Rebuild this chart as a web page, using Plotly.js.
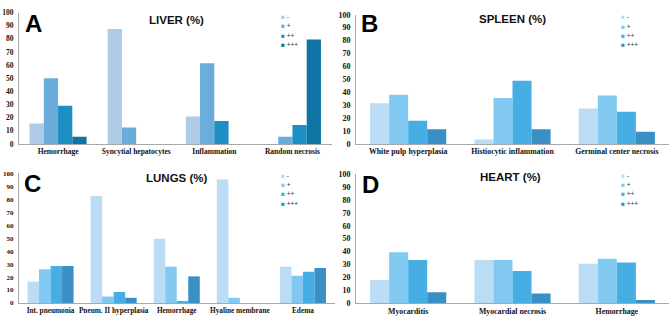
<!DOCTYPE html>
<html>
<head>
<meta charset="utf-8">
<script src="https://cdn.plot.ly/plotly-3.0.1.min.js"></script>
<style>html,body{margin:0;padding:0;background:#fff;}#chart{width:669px;height:317px;}</style>
</head>
<body>
<div id="chart"></div>
<script>
// ---- DATA ----
const seriesNames = ['-', '+', '++', '+++'];

const liverCats = ['Hemorrhage', 'Syncytial hepatocytes', 'Inflammation', 'Random necrosis'];
// rows: '-', '+', '++', '+++'
const liverValues = [
  [15.5, 87.5, 21, 0],
  [50, 12.5, 61.5, 5.5],
  [29, 0, 17.5, 14.5],
  [5.5, 0, 0, 79.5]
];

const spleenCats = ['White pulp hyperplasia', 'Histiocytic inflammation', 'Germinal center necrosis'];
const spleenValues = [
  [31.5, 3.5, 27.5],
  [38, 35.5, 37.5],
  [18, 49, 25],
  [11.5, 11.5, 9.5]
];

const lungsCats = ['Int. pneumonia', 'Pneum. II hyperplasia', 'Hemorrhage', 'Hyaline membrane', 'Edema'];
const lungsValues = [
  [16.5, 82.5, 49.5, 95.5, 28],
  [26, 5, 28, 4, 21],
  [28.5, 8.5, 1.5, 0, 24],
  [28.5, 4, 20.5, 0, 27]
];

const heartCats = ['Myocarditis', 'Myocardial necrosis', 'Hemorrhage'];
const heartValues = [
  [18, 33.5, 30.5],
  [39.5, 33.5, 34.5],
  [33.5, 25, 31.5],
  [8.5, 7.5, 2.5]
];

const panelTitles = ['LIVER (%)', 'SPLEEN (%)', 'LUNGS (%)', 'HEART (%)'];
const panelLetters = ['A', 'B', 'C', 'D'];

// ---- STYLE ----
const W = 669, H = 317;
const px = x => x / W;
const py = y => 1 - y / H;

const liverColors = ['#aecbe7', '#6badda', '#1d8fc5', '#0f74a3'];
const blueColors = ['#badcf5', '#82c9f2', '#46aee3', '#3a90c4'];

const panels = [
  {cats: liverCats, vals: liverValues, colors: liverColors, xa: 'x', ya: 'y',
   xd: [19, 331.5], yd: [144, 12.5], ytf: 7.5, xtf: 7.5,
   title: [176.5, 20], letter: [33.5, 23.5], legend: [281.7, 16.3]},
  {cats: spleenCats, vals: spleenValues, colors: blueColors, xa: 'x2', ya: 'y2',
   xd: [356, 669], yd: [144, 14.7], ytf: 8, xtf: 7.8,
   title: [512, 19.5], letter: [369.5, 23.5], legend: [621.7, 16.7]},
  {cats: lungsCats, vals: lungsValues, colors: blueColors, xa: 'x3', ya: 'y3',
   xd: [19, 334.5], yd: [303, 173.3], ytf: 7, xtf: 7.3,
   title: [177, 178], letter: [32.5, 183.5], legend: [281.7, 175]},
  {cats: heartCats, vals: heartValues, colors: blueColors, xa: 'x4', ya: 'y4',
   xd: [356, 669], yd: [303.3, 174], ytf: 8, xtf: 7.8,
   title: [510.5, 177], letter: [370, 184], legend: [621.7, 175]}
];

const data = [];
const layout = {
  width: W, height: H,
  margin: {l: 0, r: 0, t: 0, b: 0},
  paper_bgcolor: '#fff', plot_bgcolor: '#fff',
  showlegend: false,
  barmode: 'group', bargap: 0.27, bargroupgap: 0,
  annotations: [],
  font: {family: 'Liberation Serif', color: '#111'}
};

panels.forEach((p, pi) => {
  const sfx = pi === 0 ? '' : String(pi + 1);
  seriesNames.forEach((name, si) => {
    data.push({
      type: 'bar', x: p.cats, y: p.vals[si], name: name,
      xaxis: p.xa, yaxis: p.ya,
      marker: {color: p.colors[si], line: {width: 0}},
      hoverinfo: 'x+y+name'
    });
  });
  layout['xaxis' + sfx] = {
    domain: [px(p.xd[0]), px(p.xd[1])],
    anchor: p.ya,
    showline: true, linecolor: '#a8a8a8', linewidth: 1,
    showgrid: false, zeroline: false, ticks: '',
    tickfont: {family: 'Liberation Serif', size: p.xtf, color: '#111', weight: 'bold'},
    tickangle: 0, fixedrange: true
  };
  layout['yaxis' + sfx] = {
    domain: [py(p.yd[0]), py(p.yd[1])],
    anchor: p.xa,
    range: [0, 100], dtick: 10, tick0: 0,
    showline: true, linecolor: '#a8a8a8', linewidth: 1,
    showgrid: false, zeroline: false, ticks: '',
    ticklabelstandoff: 3,
    tickfont: {family: 'Liberation Serif', size: p.ytf, color: '#111', weight: 'bold'},
    fixedrange: true
  };
  layout.annotations.push({
    xref: 'paper', yref: 'paper', x: px(p.title[0]), y: py(p.title[1]),
    xanchor: 'center', yanchor: 'middle', showarrow: false,
    text: '<b>' + panelTitles[pi] + '</b>',
    font: {family: 'Liberation Sans', size: 11.5, color: '#111'}
  });
  layout.annotations.push({
    xref: 'paper', yref: 'paper', x: px(p.letter[0]), y: py(p.letter[1]),
    xanchor: 'center', yanchor: 'middle', showarrow: false,
    text: '<b>' + panelLetters[pi] + '</b>',
    font: {family: 'Liberation Sans', size: 24, color: '#000'}
  });
  seriesNames.forEach((name, si) => {
    layout.annotations.push({
      xref: 'paper', yref: 'paper', x: px(p.legend[0] - 2), y: py(p.legend[1] + si * 9.4),
      xanchor: 'left', yanchor: 'middle', showarrow: false, borderpad: 0,
      text: '<span style="color:' + p.colors[si] + '">■</span> ' + name,
      font: {family: 'Liberation Sans', size: 6.5, color: '#333'}
    });
  });
});

Plotly.newPlot('chart', data, layout, {displayModeBar: false, staticPlot: true});
</script>
</body>
</html>
